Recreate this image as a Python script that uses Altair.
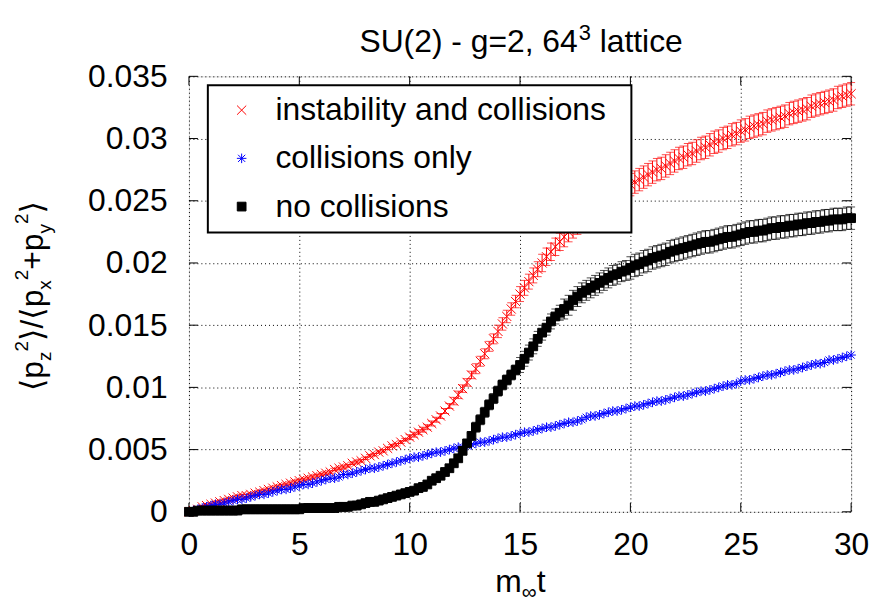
import altair as alt
import pandas as pd

FONT = "Liberation Sans, DejaVu Sans"

# time grid (m_inf t), one sample every 0.2
T = [round(0.2 * i, 2) for i in range(151)]

RED = [
    0.0000, 0.0001, 0.0002, 0.0004, 0.0005,
    0.0006, 0.0007, 0.0008, 0.0009, 0.0010,
    0.0011, 0.0012, 0.0013, 0.0013, 0.0014,
    0.0015, 0.0016, 0.0017, 0.0018, 0.0019,
    0.0020, 0.0021, 0.0022, 0.0023, 0.0024,
    0.0025, 0.0026, 0.0027, 0.0028, 0.0029,
    0.0030, 0.0031, 0.0032, 0.0034, 0.0035,
    0.0036, 0.0037, 0.0039, 0.0040, 0.0041,
    0.0043, 0.0045, 0.0046, 0.0048, 0.0049,
    0.0051, 0.0053, 0.0054, 0.0056, 0.0058,
    0.0060, 0.0062, 0.0064, 0.0066, 0.0068,
    0.0071, 0.0074, 0.0077, 0.0081, 0.0085,
    0.0089, 0.0094, 0.0099, 0.0104, 0.0110,
    0.0115, 0.0121, 0.0127, 0.0133, 0.0139,
    0.0145, 0.0151, 0.0157, 0.0163, 0.0169,
    0.0175, 0.0180, 0.0185, 0.0190, 0.0195,
    0.0200, 0.0205, 0.0209, 0.0213, 0.0217,
    0.0221, 0.0225, 0.0228, 0.0231, 0.0234,
    0.0238, 0.0241, 0.0243, 0.0246, 0.0248,
    0.0251, 0.0253, 0.0256, 0.0258, 0.0260,
    0.0263, 0.0265, 0.0267, 0.0269, 0.0271,
    0.0273, 0.0275, 0.0276, 0.0278, 0.0280,
    0.0282, 0.0284, 0.0285, 0.0287, 0.0288,
    0.0290, 0.0292, 0.0293, 0.0295, 0.0297,
    0.0298, 0.0300, 0.0301, 0.0303, 0.0304,
    0.0306, 0.0307, 0.0309, 0.0310, 0.0311,
    0.0312, 0.0314, 0.0315, 0.0316, 0.0317,
    0.0318, 0.0320, 0.0321, 0.0322, 0.0323,
    0.0324, 0.0326, 0.0327, 0.0328, 0.0329,
    0.0330, 0.0331, 0.0333, 0.0334, 0.0335,
    0.0336,
]

RED_ERR = (
    [0.0001] * 50 + [0.0002] * 10 + [0.0003] * 5 + [0.0004] * 5 + [0.0005] * 5
    + [0.0006] * 5 + [0.0007] * 5 + [0.0008] * 10 + [0.0009] * 56
)

BLUE = [
    0.0000, 0.0001, 0.0002, 0.0003, 0.0004,
    0.0005, 0.0006, 0.0006, 0.0007, 0.0008,
    0.0009, 0.0010, 0.0010, 0.0011, 0.0012,
    0.0013, 0.0014, 0.0014, 0.0015, 0.0016,
    0.0017, 0.0018, 0.0018, 0.0019, 0.0020,
    0.0021, 0.0022, 0.0022, 0.0023, 0.0024,
    0.0025, 0.0026, 0.0027, 0.0027, 0.0028,
    0.0030, 0.0030, 0.0031, 0.0032, 0.0033,
    0.0034, 0.0035, 0.0035, 0.0036, 0.0037,
    0.0038, 0.0039, 0.0040, 0.0041, 0.0042,
    0.0043, 0.0044, 0.0044, 0.0045, 0.0046,
    0.0047, 0.0048, 0.0048, 0.0049, 0.0050,
    0.0051, 0.0052, 0.0052, 0.0053, 0.0054,
    0.0055, 0.0056, 0.0056, 0.0057, 0.0058,
    0.0059, 0.0060, 0.0060, 0.0061, 0.0062,
    0.0063, 0.0064, 0.0064, 0.0065, 0.0066,
    0.0067, 0.0068, 0.0068, 0.0069, 0.0070,
    0.0071, 0.0072, 0.0072, 0.0073, 0.0074,
    0.0076, 0.0077, 0.0077, 0.0078, 0.0079,
    0.0080, 0.0081, 0.0081, 0.0082, 0.0083,
    0.0084, 0.0085, 0.0085, 0.0086, 0.0087,
    0.0088, 0.0089, 0.0089, 0.0090, 0.0091,
    0.0092, 0.0093, 0.0093, 0.0094, 0.0095,
    0.0096, 0.0097, 0.0097, 0.0098, 0.0099,
    0.0100, 0.0101, 0.0102, 0.0102, 0.0103,
    0.0105, 0.0106, 0.0106, 0.0107, 0.0108,
    0.0109, 0.0110, 0.0110, 0.0111, 0.0112,
    0.0113, 0.0114, 0.0114, 0.0115, 0.0116,
    0.0117, 0.0118, 0.0119, 0.0119, 0.0120,
    0.0122, 0.0122, 0.0123, 0.0124, 0.0125,
    0.0126,
]

BLACK = [
    0.0000, 0.0000, 0.0001, 0.0001, 0.0001,
    0.0001, 0.0001, 0.0001, 0.0001, 0.0001,
    0.0001, 0.0001, 0.0002, 0.0002, 0.0002,
    0.0002, 0.0002, 0.0002, 0.0002, 0.0002,
    0.0002, 0.0002, 0.0002, 0.0002, 0.0002,
    0.0002, 0.0003, 0.0003, 0.0003, 0.0003,
    0.0003, 0.0003, 0.0003, 0.0003, 0.0004,
    0.0004, 0.0004, 0.0005, 0.0005, 0.0006,
    0.0007, 0.0008, 0.0008, 0.0009, 0.0010,
    0.0011, 0.0012, 0.0013, 0.0014, 0.0015,
    0.0016, 0.0017, 0.0019, 0.0020, 0.0022,
    0.0025, 0.0027, 0.0029, 0.0032, 0.0035,
    0.0039, 0.0043, 0.0049, 0.0055, 0.0061,
    0.0068, 0.0074, 0.0080, 0.0086, 0.0091,
    0.0097, 0.0102, 0.0106, 0.0110, 0.0114,
    0.0118, 0.0123, 0.0128, 0.0133, 0.0139,
    0.0144, 0.0148, 0.0153, 0.0157, 0.0160,
    0.0163, 0.0166, 0.0170, 0.0173, 0.0176,
    0.0178, 0.0180, 0.0182, 0.0184, 0.0186,
    0.0188, 0.0190, 0.0191, 0.0193, 0.0194,
    0.0196, 0.0198, 0.0199, 0.0201, 0.0202,
    0.0204, 0.0205, 0.0206, 0.0207, 0.0209,
    0.0210, 0.0211, 0.0212, 0.0213, 0.0214,
    0.0215, 0.0216, 0.0217, 0.0217, 0.0218,
    0.0219, 0.0220, 0.0221, 0.0221, 0.0222,
    0.0223, 0.0224, 0.0225, 0.0225, 0.0226,
    0.0226, 0.0227, 0.0228, 0.0228, 0.0229,
    0.0229, 0.0230, 0.0230, 0.0231, 0.0231,
    0.0232, 0.0232, 0.0233, 0.0233, 0.0234,
    0.0234, 0.0235, 0.0235, 0.0235, 0.0236,
    0.0236,
]

BLACK_ERR = (
    [0.0] * 55 + [0.0002] * 10 + [0.0004] * 10 + [0.0006] * 10
    + [0.0008] * 15 + [0.0009] * 51
)

BLUE_ERR = [0.0] * 151

SERIES = ["instability and collisions", "collisions only", "no collisions"]
COLORS = ["#ff0000", "#0000ff", "#000000"]
FILLS = ["transparent", "transparent", "#000000"]
SHAPES = [
    "M-1.15,-1.15L1.15,1.15M-1.15,1.15L1.15,-1.15",
    "M-1.2,0L1.2,0M0,-1.2L0,1.2M-0.9,-0.9L0.9,0.9M-0.9,0.9L0.9,-0.9",
    "M-1.1,-1.1L1.1,-1.1L1.1,1.1L-1.1,1.1Z",
]

X_TICKS = [0, 5, 10, 15, 20, 25, 30]
Y_TICKS = [0, 0.005, 0.01, 0.015, 0.02, 0.025, 0.03, 0.035]

TITLE_MAIN = "SU(2) - g=2, 64"
TITLE_SUP = "3"
TITLE_END = "lattice"

W, H = 666, 438

rows = []
for name, vals, errs in zip(SERIES, [RED, BLUE, BLACK], [RED_ERR, BLUE_ERR, BLACK_ERR]):
    for t, v, e in zip(T, vals, errs):
        rows.append({"s": name, "t": t, "v": v, "e": e, "lo": v - e, "hi": v + e})
df = pd.DataFrame(rows)

xs = alt.Scale(domain=[0, 30], nice=False, zero=False)
ys = alt.Scale(domain=[0, 0.035], nice=False)

xaxis = alt.Axis(values=X_TICKS, title=None, labelFontSize=32, labelFont=FONT,
                 labelColor="black", labelPadding=18, ticks=False, tickSize=0,
                 domain=False, grid=True, gridColor="black", gridDash=[1, 3],
                 gridWidth=1, labelFlush=False, labelOverlap=False)
yaxis = alt.Axis(values=Y_TICKS, title=None, labelFontSize=32, labelFont=FONT,
                 labelColor="black", labelPadding=22, ticks=False, tickSize=0,
                 domain=False, grid=True, gridColor="black", gridDash=[1, 3],
                 gridWidth=1, format="~g", labelFlush=False, labelOverlap=False)


def errbars(series, color):
    base = alt.Chart(df).transform_filter(
        f"datum.e > 0 && datum.s == '{series}'")
    bar = base.mark_rule(strokeWidth=1, color=color).encode(
        x=alt.X("t:Q", scale=xs, axis=xaxis),
        y=alt.Y("lo:Q", scale=ys, axis=yaxis),
        y2="hi:Q",
    )
    lo = base.mark_tick(orient="horizontal", size=8, thickness=1, color=color).encode(
        x=alt.X("t:Q", scale=xs, axis=xaxis),
        y=alt.Y("lo:Q", scale=ys, axis=yaxis),
    )
    hi = base.mark_tick(orient="horizontal", size=8, thickness=1, color=color).encode(
        x=alt.X("t:Q", scale=xs, axis=xaxis),
        y=alt.Y("hi:Q", scale=ys, axis=yaxis),
    )
    return [bar, lo, hi]


points = alt.Chart(df).mark_point(filled=False, strokeWidth=1, opacity=1, size=64).encode(
    x=alt.X("t:Q", scale=xs, axis=xaxis),
    y=alt.Y("v:Q", scale=ys, axis=yaxis),
    color=alt.Color("s:N", scale=alt.Scale(domain=SERIES, range=COLORS), legend=None),
    fill=alt.Fill("s:N", scale=alt.Scale(domain=SERIES, range=FILLS), legend=None),
    shape=alt.Shape("s:N", scale=alt.Scale(domain=SERIES, range=SHAPES), legend=None),
)

ytick_df = pd.DataFrame({"yt": Y_TICKS})
xtick_df = pd.DataFrame({"xt": X_TICKS})
yt_left = alt.Chart(ytick_df).mark_rule(color="black", strokeWidth=1).encode(
    y=alt.Y("yt:Q", scale=ys, axis=yaxis), x=alt.value(0), x2=alt.value(9))
yt_right = alt.Chart(ytick_df).mark_rule(color="black", strokeWidth=1).encode(
    y=alt.Y("yt:Q", scale=ys, axis=yaxis), x=alt.value(W - 9), x2=alt.value(W))
xt_bot = alt.Chart(xtick_df).mark_rule(color="black", strokeWidth=1).encode(
    x=alt.X("xt:Q", scale=xs, axis=xaxis), y=alt.value(H - 9), y2=alt.value(H))
xt_top = alt.Chart(xtick_df).mark_rule(color="black", strokeWidth=1).encode(
    x=alt.X("xt:Q", scale=xs, axis=xaxis), y=alt.value(0), y2=alt.value(9))

ONE = pd.DataFrame({"k": [0]})


def txt(s, x, y, size, angle=0, align="left", baseline="alphabetic"):
    return alt.Chart(ONE).mark_text(
        text=s, font=FONT, fontSize=size, angle=angle, align=align,
        baseline=baseline, color="black").encode(x=alt.value(x), y=alt.value(y))


# --- legend box (key in the upper left of the plot) ---
LEG_X0, LEG_X1, LEG_Y0, LEG_Y1 = 19, 445, 9, 157
LEG_SYM_X, LEG_TXT_X, LEG_ROW0, LEG_ROW_STEP = 53, 87, 34, 48.5
legend_layers = [
    alt.Chart(ONE).mark_rect(fill="white", stroke="black", strokeWidth=2).encode(
        x=alt.value(LEG_X0), x2=alt.value(LEG_X1),
        y=alt.value(LEG_Y0), y2=alt.value(LEG_Y1))
]
for i, (name, col, fil, shp) in enumerate(zip(SERIES, COLORS, FILLS, SHAPES)):
    yy = LEG_ROW0 + LEG_ROW_STEP * i
    legend_layers.append(
        alt.Chart(ONE).mark_point(shape=shp, size=64, stroke=col, fill=fil,
                                  strokeWidth=1, opacity=1, filled=False).encode(
            x=alt.value(LEG_SYM_X), y=alt.value(yy)))
    legend_layers.append(txt(name, LEG_TXT_X, yy, 32, baseline="middle"))

# --- layout of typeset texts (pixel offsets) ---
EM = {"⟨": 0.39, "⟩": 0.39, "p": 0.556, "/": 0.278, "+": 0.584, "z": 0.5,
      "x": 0.5, "y": 0.5, "2": 0.556}
MAIN, SCR = 32, 19
ypieces = [("⟨p", "m"), ("z", "b"), ("2", "u"), ("⟩/⟨p", "m"), ("x", "b"),
           ("2", "u"), ("+p", "m"), ("y", "b"), ("2", "u"), ("⟩", "m")]


def pw(s, role):
    size = MAIN if role == "m" else SCR
    return sum(EM.get(c, 0.55) for c in s) * size


total = sum(pw(s, r) for s, r in ypieces)
base_x = -147
cur = 221 + total / 2
texts = []
for s, r in ypieces:
    xoff = {"m": 0, "b": 8, "u": -15}[r]
    texts.append(txt(s, base_x + xoff, cur, MAIN if r == "m" else SCR, angle=270))
    cur -= pw(s, r)

# x title: m_inf t
xt_start = 308
texts.append(txt("m", xt_start, 519, MAIN))
texts.append(txt("∞", xt_start + 26.7, 526, SCR + 2))
texts.append(txt("t", xt_start + 26.7 + 15, 519, MAIN))

# chart title with superscript
x_r = 391
texts.append(txt(TITLE_MAIN, x_r, -24, MAIN, align="right"))
texts.append(txt(TITLE_SUP, x_r + 1, -37, 22))
texts.append(txt(TITLE_END, x_r + 1 + 12.2 + 8.9, -24, MAIN))

layers = errbars(SERIES[0], COLORS[0]) + [points] + errbars(SERIES[2], COLORS[2])

chart = alt.layer(
    *layers, yt_left, yt_right, xt_bot, xt_top, *legend_layers, *texts
).properties(
    width=W, height=H,
    padding={"left": 182, "top": 67, "right": 20, "bottom": 92},
    autosize=alt.AutoSizeParams(type="none"),
).configure_view(
    stroke="black", strokeWidth=1.5
).configure(background="white")

chart.save("out.html", embed_options={"renderer": "svg", "actions": False})
